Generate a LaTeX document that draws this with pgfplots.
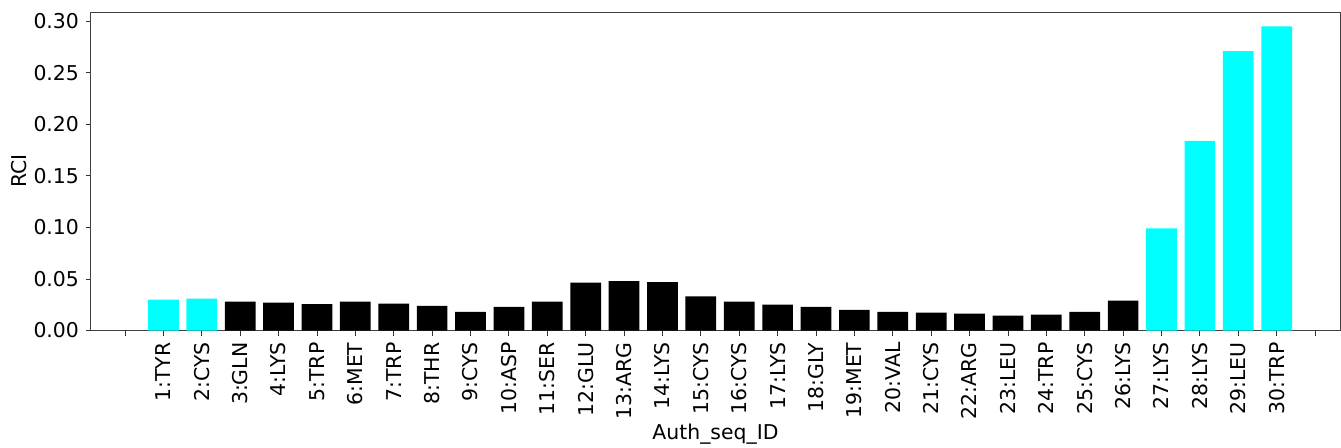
\documentclass[border=0pt]{standalone}
\usepackage{fontspec}
\setmainfont{DejaVu Sans}
\usepackage{pgfplots}
\pgfplotsset{compat=1.18}
\definecolor{barcyan}{RGB}{0,255,255}

\begin{document}
\begin{tikzpicture}
\begin{axis}[
    scale only axis,
    width=624.5pt, height=159.25pt,
    ybar, bar width=0.8, bar shift=0pt,
    xmin=-0.886, xmax=31.65,
    ymin=0, ymax=0.309,
    xtick={0,...,31},
    xticklabels={,1:TYR,2:CYS,3:GLN,4:LYS,5:TRP,6:MET,7:TRP,8:THR,9:CYS,10:ASP,
        11:SER,12:GLU,13:ARG,14:LYS,15:CYS,16:CYS,17:LYS,18:GLY,19:MET,20:VAL,
        21:CYS,22:ARG,23:LEU,24:TRP,25:CYS,26:LYS,27:LYS,28:LYS,29:LEU,30:TRP,},
    x tick label style={rotate=90, anchor=east},
    ytick={0,0.05,...,0.30},
    yticklabel style={/pgf/number format/fixed, /pgf/number format/fixed zerofill,
        /pgf/number format/precision=2},
    /pgf/number format/assume math mode=true,
    tick align=outside,
    xtick pos=left, ytick pos=left,
    major tick length=2.5pt,
    tick style={black!80, line width=0.4pt},
    axis line style={black!75, line width=0.5pt},
    ticklabel style={font=\fontsize{10.2}{12}\selectfont},
    label style={font=\fontsize{10.2}{12}\selectfont},
    xlabel={Auth\_seq\_ID},
    ylabel={RCI},
    xlabel shift=-4.5pt,
    ylabel shift=-3.5pt,
]
% highlighted residues (cyan)
\addplot[fill=barcyan, draw=none] coordinates {
    (1,0.030) (2,0.031) (27,0.099) (28,0.184) (29,0.271) (30,0.295)
};
% remaining residues (black)
\addplot[fill=black, draw=none] coordinates {
    (3,0.028) (4,0.027) (5,0.0255) (6,0.028) (7,0.026) (8,0.024) (9,0.018)
    (10,0.023) (11,0.028) (12,0.0465) (13,0.048) (14,0.047) (15,0.033)
    (16,0.028) (17,0.025) (18,0.023) (19,0.020) (20,0.018) (21,0.0174)
    (22,0.0165) (23,0.0145) (24,0.0155) (25,0.018) (26,0.029)
};
\end{axis}
\pgfresetboundingbox
\path (-45.5pt,-58.25pt) rectangle (625pt,165.25pt);
\end{tikzpicture}
\end{document}
